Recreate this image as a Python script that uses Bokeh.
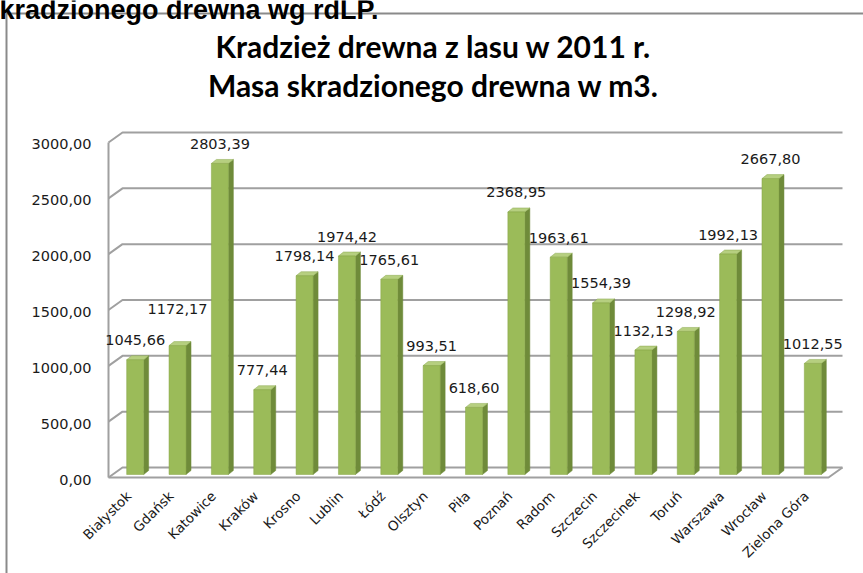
import math
from bokeh.plotting import figure
from bokeh.models import Range1d, ColumnDataSource
from bokeh.embed import file_html
from bokeh.resources import INLINE
from bokeh.core.properties import value

# ---------------- data ----------------
regions = ["Białystok", "Gdańsk", "Katowice", "Kraków", "Krosno", "Lublin", "Łódź",
           "Olsztyn", "Piła", "Poznań", "Radom", "Szczecin", "Szczecinek", "Toruń",
           "Warszawa", "Wrocław", "Zielona Góra"]
volumes = [1045.66, 1172.17, 2803.39, 777.44, 1798.14, 1974.42, 1765.61,
           993.51, 618.60, 2368.95, 1963.61, 1554.39, 1132.13, 1298.92,
           1992.13, 2667.80, 1012.55]
y_ticks = [0, 500, 1000, 1500, 2000, 2500, 3000]
title_lines = ["Kradzież drewna z lasu w 2011 r.", "Masa skradzionego drewna w m3."]
top_text = "kradzionego drewna wg rdLP."

# ---------------- geometry / style ----------------
W, H = 863, 573
FX0 = 108          # front plane left edge (px)
FXW = 720          # front plane width (px)
FY0 = 477          # front plane zero line (px from top)
KY = 0.111667      # px per m3
n = len(regions)
KX = FXW / n       # px per category
x0 = -FX0 / KX
x1 = x0 + W / KX
y0 = -(H - FY0) / KY
y1 = FY0 / KY

def dx(px):
    return px / KX

def dy(px):
    return px / KY

def X(fx):
    return x0 + fx / KX

def Y(fy):
    return y1 - fy / KY

DEPTH_X, DEPTH_Y = 14, 10
label_raise_px = [16.5, 34, 16.5, 16.5, 16.5, 16.5, 16.5, 16.5, 16.5,
                  16.5, 16.5, 16.5, 16.5, 16.5, 16.5, 16.5, 16.5]

GRID = "#a0a0a0"
FRONT = "#9bbb59"
SIDE = "#6f8b3a"
TOP = "#b6cf80"
TXT = "#1a1a1a"
FONT = "DejaVu Sans"

p = figure(width=W, height=H, x_range=Range1d(x0, x1), y_range=Range1d(y0, y1),
           output_backend="svg", toolbar_location=None, min_border=0,
           x_axis_location=None, y_axis_location=None)
p.grid.visible = False
p.outline_line_color = None
p.background_fill_color = "white"
p.border_fill_color = "white"

# ---- outer chart border ----
p.line([X(6), X(6), X(W)], [Y(H), Y(13), Y(13)], line_color="#8a8a8a", line_width=2)

# ---- walls / gridlines ----
wx, wy = [], []
for t in y_ticks:
    wx.append([0, dx(DEPTH_X), n + dx(DEPTH_X)])
    wy.append([t, t + dy(DEPTH_Y), t + dy(DEPTH_Y)])
wx.append([0, 0]); wy.append([0, y_ticks[-1]])
wx.append([0, n, n + dx(DEPTH_X)]); wy.append([0, 0, dy(DEPTH_Y)])
p.multi_line(wx, wy, line_color=GRID, line_width=2)

# ---- bars (3D) ----
cx = [i + 0.5 + dx(5.5) for i in range(n)]
left = [c - dx(8.5) for c in cx]
right = [c + dx(8.5) for c in cx]
base = dy(3)
tf = [v + dy(1) for v in volumes]
sx, sy, tx, ty = [], [], [], []
for l, r, t in zip(left, right, tf):
    sx.append([r, r + dx(5), r + dx(5), r])
    sy.append([base, base + dy(4), t + dy(4), t])
    tx.append([l, r, r + dx(5), l + dx(5)])
    ty.append([t, t, t + dy(4), t + dy(4)])
p.patches(sx, sy, fill_color=SIDE, line_color=SIDE, line_width=0.5)
p.patches(tx, ty, fill_color=TOP, line_color="#8aa84e", line_width=0.5)
p.quad(left=left, right=right, bottom=[base] * n, top=tf,
       fill_color=FRONT, line_color="#86a545", line_width=0.5)

# ---- value labels ----
fmt = lambda v: f"{v:.2f}".replace(".", ",")
lab_src = ColumnDataSource(dict(
    x=cx,
    y=[v + dy(4) + dy(r) for v, r in zip(volumes, label_raise_px)],
    t=[fmt(v) for v in volumes]))
p.text("x", "y", text="t", source=lab_src, text_align="center", text_baseline="middle",
       text_font=value(FONT), text_font_size="14.5px", text_color=TXT)

# ---- y tick labels ----
p.text([-dx(17)] * len(y_ticks), [t - dy(2) for t in y_ticks], text=[fmt(t) for t in y_ticks],
       text_align="right", text_baseline="middle",
       text_font=value(FONT), text_font_size="14.5px", text_color=TXT)

# ---- category labels ----
p.text([i + 0.5 - dx(1) for i in range(n)], [-dy(16)] * n, text=regions,
       angle=math.pi / 4, text_align="right", text_baseline="middle",
       text_font=value(FONT), text_font_size="13.5px", text_color=TXT)

# ---- titles ----
p.text([X(433)] * 2, [Y(45), Y(84)], text=title_lines, text_align="center",
       text_baseline="middle", text_font=value("Lato"), text_font_style="bold",
       text_font_size="30px", text_color="#000000")
p.text([X(-1)], [Y(9)], text=[top_text], text_align="left", text_baseline="alphabetic",
       text_font=value("Liberation Sans"), text_font_style="bold",
       text_font_size="27px", text_color="#000000")

open("out.html", "w").write(file_html(p, INLINE))
